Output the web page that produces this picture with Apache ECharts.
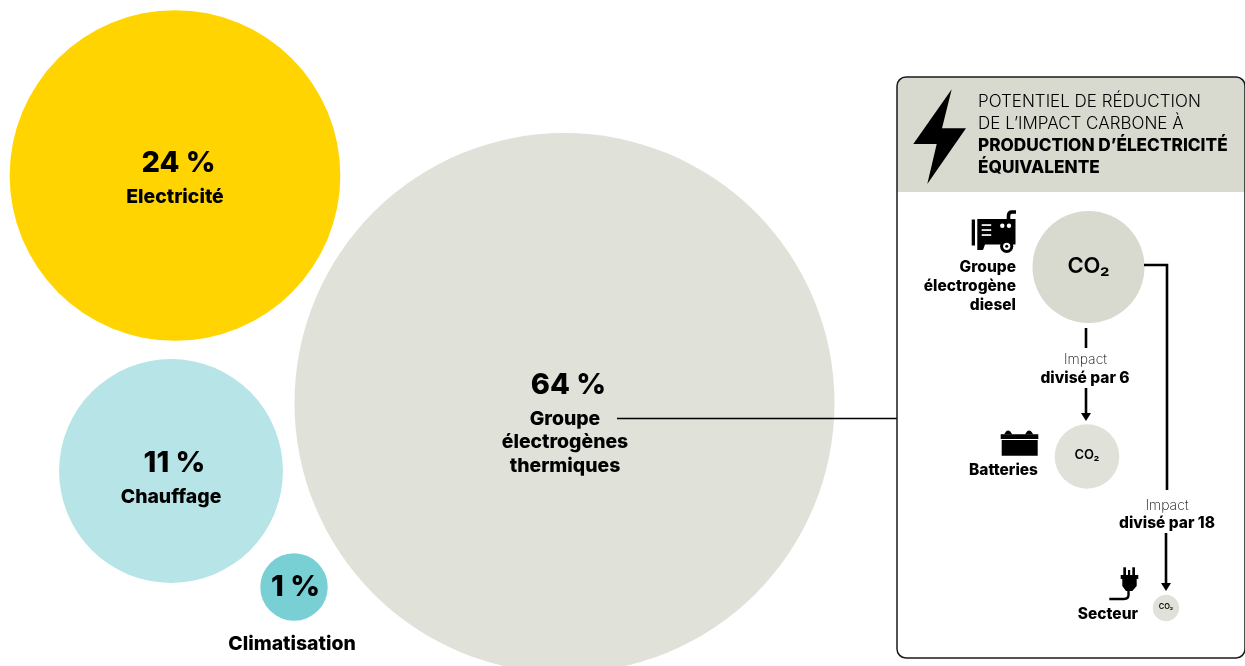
<!DOCTYPE html>
<html><head><meta charset="utf-8">
<style>html,body{margin:0;padding:0;background:#fff}#c{width:1245px;height:666px}</style>
<script src="https://cdn.jsdelivr.net/npm/echarts@6/dist/echarts.min.js"></script>
</head><body><div id="c"></div>
<script>
// DATA
const shareNames = ['Electricité', 'Groupe\nélectrogènes\nthermiques', 'Chauffage', 'Climatisation'];
const shareValues = [24, 64, 11, 1];
const co2Sources = ['Groupe\nélectrogène\ndiesel', 'Batteries', 'Secteur'];
const co2Relative = [18, 6, 1];
const panelTitleLight = ['POTENTIEL DE RÉDUCTION', 'DE L’IMPACT CARBONE À'];
const panelTitleBold = ['PRODUCTION D’ÉLECTRICITÉ', 'ÉQUIVALENTE'];
const impactLabels = ['divisé par 6', 'divisé par 18'];

// LAYOUT (bubble packing positions in axis units, styles)
const shareX = [175, 564.5, 171, 294];
const shareY = [175.5, 403, 471, 587];
const shareColors = ['#FFD400', '#E0E1D9', '#B7E4E6', '#79D0D4'];
const shareScale = 33.75;
const co2X = [1088.5, 1087, 1166];
const co2Y = [267, 456.5, 608];
const co2Colors = ['#D8D9CF', '#E0E1D9', '#E0E1D9'];
const co2Scale = 13.2;
const co2FontSizes = [22, 13, 7.5];
const FONT = 'Inter';
const labelOffsets = [[0, 0], [0.5, 17.5], [0, 4.5], [-2, 24]];
const nameSize = 19.4;
const sideSize = 15.5;

const k = '#000';
let shapeCount = 0;
const pathShape = (d, style, z) => {
  const name = 'svgPath' + (shapeCount++);
  echarts.graphic.registerShape(name, echarts.graphic.extendPath(d, {}));
  return { type: name, z: z || 12, silent: true, style };
};
const t = (x, y, text, size, weight, align, extra) => ({
  type: 'text', z: 20, silent: true,
  style: Object.assign({ x, y, text, fontFamily: FONT, fontSize: size, fontWeight: weight, fill: k, align: align || 'center', verticalAlign: 'middle' }, extra || {})
});
const line = (pts, w) => ({ type: 'polyline', z: 12, silent: true, shape: { points: pts }, style: { stroke: k, lineWidth: w, fill: null } });
const poly = (pts, fill) => ({ type: 'polygon', z: 12, silent: true, shape: { points: pts }, style: { fill: fill || k } });
const rect = (x, y, w, h, fill, r) => ({ type: 'rect', z: 12, silent: true, shape: { x, y, width: w, height: h, r: r || 0 }, style: { fill: fill || k } });
const circ = (cx, cy, r, fill, z) => ({ type: 'circle', z: z || 13, silent: true, shape: { cx, cy, r }, style: { fill: fill || k } });

const graphics = [
  // panel
  { type: 'rect', z: 3, silent: true, shape: { x: 897, y: 77, width: 349, height: 581, r: 9 }, style: { fill: '#fff' } },
  { type: 'rect', z: 4, silent: true, shape: { x: 897, y: 77, width: 349, height: 115, r: [9, 9, 0, 0] }, style: { fill: '#D8D9CF' } },
  { type: 'rect', z: 15, silent: true, shape: { x: 897, y: 77, width: 348, height: 581, r: 9 }, style: { fill: null, stroke: '#1a1a1a', lineWidth: 1.5 } },
  // leader from thermal bubble
  line([[617, 418.5], [897, 418.5]], 1.5),
  // bolt
  poly([[951.7, 89.3], [913.3, 144], [936.7, 144], [927.3, 184], [966, 128.3], [942, 128.3]]),
  // arrows
  line([[1086, 328], [1086, 348]], 2.6),
  line([[1086, 388], [1086, 414]], 2.6),
  poly([[1081, 413], [1091, 413], [1086, 421]]),
  line([[1144, 265], [1167, 265], [1167, 490]], 2.6),
  line([[1166, 533], [1166, 584]], 2.6),
  poly([[1161, 583], [1171, 583], [1166, 591]]),
  // generator icon
  rect(971.7, 219.5, 3.3, 26),
  pathShape('M977.3 219 L1015.5 219 L1015.5 244.5 L985 244.5 L983 250 L977.3 250 Z', { fill: k }),
  pathShape('M1008.5 220 L1008.5 216 Q1008.5 212 1012 212 L1016 212', { stroke: k, lineWidth: 3.6, fill: null }),
  rect(981.7, 224.2, 9.5, 1.7, '#fff'), rect(981.7, 229.2, 9.5, 1.7, '#fff'), rect(981.7, 234.2, 9.5, 1.7, '#fff'),
  circ(1002.3, 225.7, 2.2, '#fff'), circ(1009, 225.7, 2.2, '#fff'),
  circ(1006.7, 246.3, 6.6, '#000'), circ(1006.7, 246.3, 3.6, '#fff', 14), circ(1006.7, 246.3, 1.5, '#000', 15),
  // battery icon
  rect(1000.7, 434.3, 37.6, 4.7), rect(1001.7, 440, 36, 15.8),
  pathShape('M1004 434.5 L1006 431.5 Q1008 429.7 1010.3 431.5 L1012.3 434.5 Z M1025 434.5 L1027 431.5 Q1029 429.7 1031.3 431.5 L1033.3 434.5 Z', { fill: k }),
  // plug icon
  rect(1123.3, 567.3, 2.7, 8), rect(1128, 570, 2.2, 5.3), rect(1132.3, 567.3, 2.7, 8),
  rect(1120.7, 575, 17.6, 4),
  pathShape('M1122.3 579 L1136.7 579 L1136.7 586 L1132.3 591 L1126 591 L1122.3 586 Z', { fill: k }),
  pathShape('M1128.5 590 L1128.5 595 Q1128.5 599 1124 599 L1109.3 599', { stroke: k, lineWidth: 2.4, fill: null }),
  // panel title
  t(978, 102, panelTitleLight[0], 17, 300, 'left'),
  t(978, 123.5, panelTitleLight[1], 17, 300, 'left'),
  t(978, 145.5, panelTitleBold[0], 17.2, 800, 'left'),
  t(978, 167.5, panelTitleBold[1], 17.2, 800, 'left'),
  // panel labels
  t(1016, 267.5, co2Sources[0].split('\n')[0], sideSize, 800, 'right'),
  t(1016, 286.5, co2Sources[0].split('\n')[1], sideSize, 800, 'right'),
  t(1016, 305, co2Sources[0].split('\n')[2], sideSize, 800, 'right'),
  t(1038, 470.5, co2Sources[1], sideSize, 800, 'right'),
  t(1138, 614.5, co2Sources[2], sideSize, 800, 'right'),
  t(1085.5, 359.5, 'Impact', 14, 200),
  t(1085, 378.5, impactLabels[0], sideSize, 800),
  t(1167, 505.5, 'Impact', 14, 200),
  t(1167, 523.5, impactLabels[1], sideSize, 800)
];

const chart = echarts.init(document.getElementById('c'), null, { renderer: 'canvas' });
chart.setOption({
  animation: false,
  grid: { left: 0, right: 0, top: 0, bottom: 0 },
  xAxis: { type: 'value', min: 0, max: 1245, show: false },
  yAxis: { type: 'value', min: 0, max: 666, inverse: true, show: false },
  graphic: graphics,
  series: [
    {
      type: 'scatter', z: 2, silent: true,
      data: shareValues.map((v, i) => ({
        value: [shareX[i], shareY[i], v],
        name: shareNames[i],
        itemStyle: { color: shareColors[i], opacity: 1 },
        label: {
          offset: labelOffsets[i],
          formatter: i === 3
            ? `{p|${v} %}\n{gap|}\n{n|${shareNames[i]}}`
            : `{p|${v} %}\n` + shareNames[i].split('\n').map(s => `{n|${s}}`).join('\n')
        }
      })),
      symbolSize: d => 2 * shareScale * Math.sqrt(d[2]),
      label: {
        show: true, position: 'inside', color: k, fontFamily: FONT, align: 'center',
        rich: {
          p: { fontFamily: FONT, fontSize: 29, fontWeight: 800, lineHeight: 44, color: k, align: 'center', padding: [0, 0, 0, 7] },
          n: { fontFamily: FONT, fontSize: nameSize, fontWeight: 800, lineHeight: 23.5, color: k, align: 'center' },
          gap: { height: 23, lineHeight: 23, fontSize: 1 }
        }
      }
    },
    {
      type: 'scatter', z: 10, silent: true,
      data: co2Relative.map((v, i) => ({
        value: [co2X[i], co2Y[i], v],
        itemStyle: { color: co2Colors[i], opacity: 1 },
        label: { fontSize: co2FontSizes[i], offset: [0, -1] }
      })),
      symbolSize: d => 2 * co2Scale * Math.sqrt(d[2]),
      label: { show: true, position: 'inside', formatter: 'CO₂', color: k, fontFamily: FONT, fontWeight: 600 }
    }
  ]
});
</script></body></html>
